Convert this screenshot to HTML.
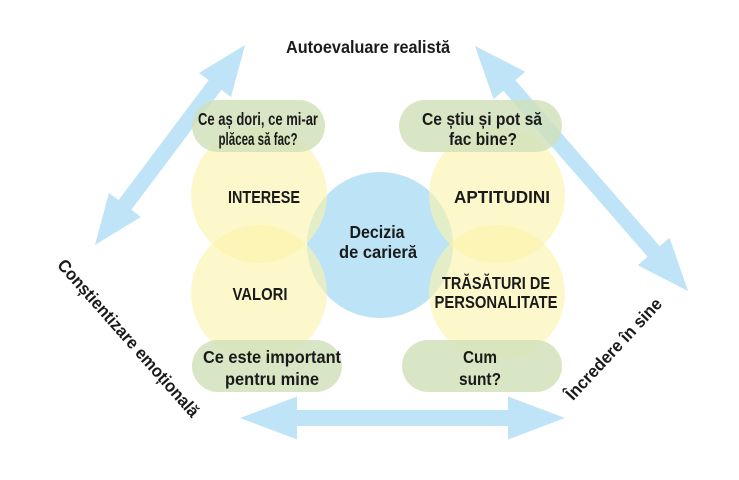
<!DOCTYPE html>
<html><head><meta charset="utf-8"><style>
html,body{margin:0;padding:0;background:#fff;width:739px;height:480px;overflow:hidden}
svg text{font-family:"Liberation Sans",sans-serif;font-weight:bold;fill:#1a1a1a}
</style></head><body>
<svg width="739" height="480" viewBox="0 0 739 480" xmlns="http://www.w3.org/2000/svg">
<polygon transform="translate(402.5,418)" points="-162.5,0 -105.5,-21.5 -105.5,-8 105.5,-8 105.5,-21.5 162.5,0 105.5,21.5 105.5,8 -105.5,8 -105.5,21.5" fill="#bfe4f7"/>
<g transform="translate(170,145) rotate(-53.1)"><polygon points="-125,0 -75,-20 -75,-8 75,-8 75,-20 125,0 75,20 75,8 -75,8 -75,20" fill="#bfe4f7"/></g>
<g transform="translate(581.5,168.5) rotate(49)"><polygon points="-162.5,0 -110,-21 -110,-8 110,-8 110,-21 162.5,0 110,21 110,8 -110,8 -110,21" fill="#bfe4f7"/></g>
<circle cx="380" cy="245" r="73" fill="#bde3f6"/>
<g fill="#fbf3a8" fill-opacity="0.6">
<circle cx="259" cy="195" r="68"/>
<circle cx="259" cy="293" r="68"/>
<circle cx="497" cy="195" r="68"/>
<circle cx="497" cy="293" r="68"/>
</g>
<g fill="#cfe0b8" fill-opacity="0.8">
<rect x="192" y="100" width="133" height="52" rx="26"/>
<rect x="399" y="100" width="163" height="52" rx="26"/>
<rect x="192" y="340" width="150" height="52" rx="26"/>
<rect x="402" y="340" width="160" height="52" rx="26"/>
</g>
<g font-size="17.5" text-anchor="middle">
<text x="258" y="125" textLength="120" lengthAdjust="spacingAndGlyphs">Ce aș dori, ce mi-ar</text>
<text x="258" y="145" textLength="79" lengthAdjust="spacingAndGlyphs">plăcea să fac?</text>
<text x="482" y="125" textLength="120" lengthAdjust="spacingAndGlyphs">Ce știu și pot să</text>
<text x="483" y="145" textLength="68" lengthAdjust="spacingAndGlyphs">fac bine?</text>
<text x="272" y="363" textLength="138" lengthAdjust="spacingAndGlyphs">Ce este important</text>
<text x="272" y="385" textLength="94" lengthAdjust="spacingAndGlyphs">pentru mine</text>
<text x="480" y="363" textLength="34" lengthAdjust="spacingAndGlyphs">Cum</text>
<text x="480" y="385" textLength="42" lengthAdjust="spacingAndGlyphs">sunt?</text>
<text x="264" y="203" textLength="72" lengthAdjust="spacingAndGlyphs">INTERESE</text>
<text x="260" y="300" textLength="55" lengthAdjust="spacingAndGlyphs">VALORI</text>
<text x="502" y="203" textLength="96" lengthAdjust="spacingAndGlyphs">APTITUDINI</text>
<text x="496" y="289" textLength="108" lengthAdjust="spacingAndGlyphs">TRĂSĂTURI DE</text>
<text x="496" y="308" textLength="123" lengthAdjust="spacingAndGlyphs">PERSONALITATE</text>
<text x="377" y="238" textLength="55" lengthAdjust="spacingAndGlyphs">Decizia</text>
<text x="378" y="258" textLength="78" lengthAdjust="spacingAndGlyphs">de carieră</text>
<text x="368" y="53" textLength="164" lengthAdjust="spacingAndGlyphs">Autoevaluare realistă</text>
<text transform="translate(124,342) rotate(48.5)" textLength="204" lengthAdjust="spacingAndGlyphs">Conștientizare emoțională</text>
<text transform="translate(618,353) rotate(-47)" textLength="132" lengthAdjust="spacingAndGlyphs">Încredere în sine</text>
</g>
</svg>
</body></html>
